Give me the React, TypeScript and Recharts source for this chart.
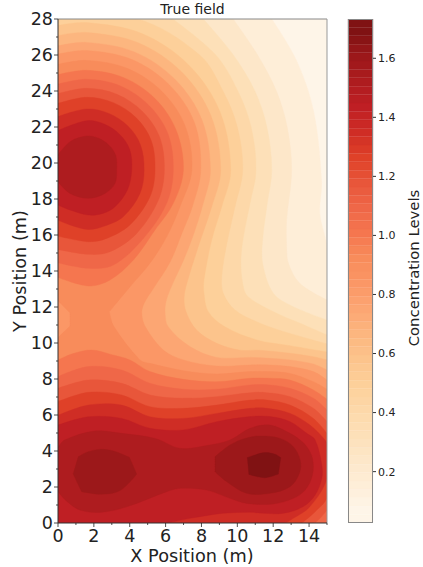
import { BarChart, Bar, LineChart, Line, XAxis, YAxis, ReferenceLine } from "recharts";

type Pt = [number, number];

// filled contour bands, low to high
const bandColors = [
  "#fef5e8", "#feeed8", "#fde7c9", "#fde0b8", "#fdd8a9",
  "#fdd09a", "#fcc48c", "#fcb67f", "#fca673", "#fb9766",
  "#f88c5b", "#f5764f", "#ef6748", "#e8563a", "#df4128",
  "#cf2d25", "#bf1f24", "#ae1c1f", "#9c181a", "#801213",
];

const base: Pt[] = [[0, 0], [0, 28], [15, 28], [15, 0]];
const level1: Pt[] = [[0, 28], [11.92, 28], [13.3, 25.7], [14.25, 22.9], [14.7, 19], [14.6, 17.2], [15, 15.2], [15, 0], [0, 0]];
const level2: Pt[] = [[0, 28], [9.77, 28], [11.13, 26], [12.18, 24], [12.78, 22], [13.03, 19.6], [12.75, 16.83], [12.75, 15.35], [12.85, 14.43], [13.5, 13.3], [15, 12.39], [15, 0], [0, 0]];
const level3: Pt[] = [[0, 28], [8.1, 28], [9.78, 26], [10.98, 24], [11.65, 22], [11.92, 19.6], [11.67, 17.76], [11.41, 15.72], [11.41, 14.43], [12.01, 12.76], [13.12, 12.02], [15, 11.28], [15, 0], [0, 0]];
const level4: Pt[] = [[0, 28], [6.4, 28], [8.8, 26], [10.03, 24], [10.77, 22], [11.04, 19.6], [10.71, 17.76], [10.34, 15.9], [10.2, 14.6], [10.3, 13.3], [10.6, 12.57], [12.2, 11.65], [13.5, 11.1], [15, 10.45], [15, 0], [0, 0]];
const level5: Pt[] = [[0, 28], [4.4, 28], [7.9, 26], [9.2, 24], [10, 22], [10.3, 19.6], [9.87, 17.57], [9.41, 15.5], [9.13, 13.67], [9.22, 12.75], [9.87, 11.83], [11.08, 11.18], [12.38, 10.7], [15, 9.95], [15, 0], [0, 0]];
const level6: Pt[] = [[0, 27.64], [1.6, 27.8], [4.68, 27.19], [7.29, 25.44], [9.04, 22.83], [9.63, 19.6], [9.13, 17.57], [8.57, 15.72], [8.14, 13.5], [8.14, 12.76], [8.38, 11.74], [9.31, 10.9], [11.08, 10.17], [12.94, 9.85], [15, 9.5], [15, 0], [0, 0]];
const level7: Pt[] = [[0, 27.08], [1.6, 27.25], [4.47, 26.68], [6.9, 25.05], [8.53, 22.62], [9.07, 19.6], [8.57, 17.57], [7.82, 15.35], [7.18, 13.3], [7.03, 12.48], [7.14, 11.74], [7.73, 10.72], [8.85, 9.98], [10.15, 9.6], [11.2, 9.6], [12.94, 9.43], [14.24, 9.24], [15, 9.06], [15, 0], [0, 0]];
const level8: Pt[] = [[0, 26.51], [1.6, 26.7], [4.26, 26.17], [6.51, 24.66], [8.02, 22.41], [8.5, 19.6], [8.1, 17.76], [7.55, 16], [7, 14.6], [6.4, 13.3], [6.05, 12.4], [5.97, 11.7], [6.15, 10.9], [7.36, 9.8], [8.85, 9.2], [10.71, 9.2], [11.82, 9.15], [12.94, 9.06], [14.24, 8.83], [15, 8.5], [15, 0], [0, 0]];
const level9: Pt[] = [[0, 26.05], [1.6, 26.25], [4.09, 25.76], [6.2, 24.35], [7.61, 22.24], [7.96, 19.6], [7.5, 17.6], [6.95, 16.2], [6.25, 14.5], [5.3, 13], [4.8, 12.2], [4.67, 11.65], [4.87, 10.9], [5.87, 9.61], [6.99, 9.06], [8.85, 8.72], [10.71, 8.78], [11.82, 8.78], [12.94, 8.69], [14.24, 8.41], [15, 7.94], [15, 0], [0, 0]];
const level10: Pt[] = [[0, 25.48], [1.6, 25.7], [3.88, 25.25], [5.81, 23.96], [7.1, 22.03], [7.46, 19.6], [6.8, 17.57], [6.06, 15.9], [5.13, 14.43], [4.02, 13.13], [2.86, 11.74], [3.12, 10.91], [4.57, 9.06], [5.13, 8.87], [6.99, 8.46], [8.85, 8.28], [10.71, 8.41], [11.82, 8.41], [12.94, 8.31], [14.24, 7.85], [15, 7.43], [15, 0], [0, 0], [0, 10.3], [0.67, 10.94], [0.67, 11.68], [0, 12.35]];
const level11Top: Pt[] = [[0, 24.91], [1.6, 25.15], [3.67, 24.74], [5.42, 23.57], [6.59, 21.82], [6.99, 19.61], [6.43, 17.76], [5.41, 16.28], [4.2, 14.61], [2.9, 13.5], [1.69, 13.17], [0, 13.65]];
const level11Low: Pt[] = [[0, 9.05], [0.8, 9.4], [1.88, 9.61], [3, 9.35], [4.01, 9.06], [5.13, 8.41], [6.99, 7.98], [8.85, 7.85], [10.71, 8.04], [11.82, 8.04], [12.94, 7.94], [14.24, 7.39], [15, 6.87], [15, 0], [0, 0]];
const level12Top: Pt[] = [[0, 24.38], [1.6, 24.65], [3.48, 24.28], [5.06, 23.21], [6.13, 21.63], [6.43, 19.61], [6.06, 17.76], [4.76, 15.81], [3.09, 14.33], [1.69, 14.15], [0, 14.46]];
const level12Low: Pt[] = [[0, 8.13], [1.69, 8.69], [3.55, 8.5], [5.13, 7.76], [6.99, 7.43], [8.85, 7.43], [10.71, 7.67], [11.82, 7.67], [12.94, 7.48], [14.24, 6.93], [15, 6.28], [15, 0], [0, 0]];
const level13Top: Pt[] = [[0, 23.85], [1.6, 24.15], [3.28, 23.82], [4.71, 22.86], [5.67, 21.43], [5.93, 19.61], [5.6, 17.94], [4.39, 16.09], [2.9, 15.07], [1.69, 14.93], [0, 15.2]];
const level13Low: Pt[] = [[0, 7.48], [1.69, 7.94], [3.55, 7.76], [5.13, 7.11], [6.99, 6.93], [8.85, 7.02], [10.71, 7.24], [11.64, 7.24], [12.94, 7.02], [14.24, 6.37], [15, 5.63], [15, 0.72], [14.61, 0.26], [14.24, 0], [0, 0]];
const level14Top: Pt[] = [[0, 23.31], [1.6, 23.65], [3.09, 23.35], [4.36, 22.51], [5.2, 21.24], [5.41, 19.61], [5.13, 18.13], [4.01, 16.56], [2.71, 15.81], [1.69, 15.63], [0, 15.94]];
const level14Low: Pt[] = [[0, 6.74], [1.69, 7.26], [3.55, 7.11], [5.13, 6.46], [6.99, 6.37], [8.85, 6.55], [10.71, 6.83], [11.64, 6.83], [12.94, 6.55], [14.24, 5.81], [15, 4.98], [15, 1.46], [14.34, 0.63], [13.6, 0], [0, 0]];
const level15Top: Pt[] = [[0, 22.58], [1.6, 23], [2.84, 22.75], [3.9, 22.05], [4.6, 21], [4.8, 19.61], [4.57, 18.31], [3.64, 17.02], [2.6, 16.5], [1.69, 16.31], [0.67, 16.56], [0, 16.83]];
const level15Low: Pt[] = [[0, 5.98], [1.69, 6.55], [3.55, 6.55], [5.13, 5.9], [6.99, 5.81], [8.85, 6.09], [10.71, 6.37], [11.64, 6.37], [12.94, 6.09], [14.05, 5.44], [14.89, 4.61], [15, 4.33], [15, 2.48], [14.05, 0.91], [13.12, 0.26], [12.57, 0], [0, 0]];
const level16Top: Pt[] = [[0, 21.8], [1.6, 22.35], [2.6, 22.15], [3.44, 21.59], [4, 20.75], [4.11, 19.61], [3.87, 18.5], [3.18, 17.57], [2.5, 17.2], [1.69, 17.11], [0.67, 17.39], [0, 17.67]];
const level16Low: Pt[] = [[0, 5.44], [1.69, 5.9], [3.55, 5.81], [5.13, 5.26], [6.99, 5.17], [8.85, 5.63], [10.71, 5.91], [11.82, 5.91], [12.94, 5.63], [13.87, 4.98], [14.34, 4.61], [14.71, 3.22], [14.71, 2.48], [14.34, 1.56], [13.68, 0.91], [12.57, 0.54], [11.45, 0.54], [10.71, 0.6], [9.22, 0.54], [8.5, 0.45], [7.36, 0.26], [5.87, 0], [0, 0]];
const level17Top: Pt[] = [[0, 20.46], [0.7, 21.2], [1.6, 21.5], [2.27, 21.37], [2.84, 20.99], [3.22, 20.42], [3.27, 19.61], [3.18, 18.87], [2.62, 18.31], [1.69, 18.04], [0.67, 18.31], [0, 18.96]];
const level17Low: Pt[] = [[0, 4.2], [0.37, 4.61], [2.04, 5.11], [3.55, 4.98], [5.41, 4.7], [6.8, 4.15], [8.29, 4.3], [9.59, 4.61], [10.71, 5.26], [11.82, 5.44], [12.94, 4.98], [13.5, 4.61], [13.87, 4.24], [14.19, 3.59], [14.19, 2.67], [13.78, 1.83], [13.12, 1.37], [12.01, 1.06], [10.52, 1.09], [9.59, 1.37], [8.29, 1.83], [6.8, 1.93], [6.06, 1.74], [3.83, 0.9], [2.34, 0.59], [1.23, 0.72], [0.5, 1.2], [0, 1.74]];
const level18Left: Pt[] = [[0.85, 2.72], [1.13, 3.68], [1.69, 3.96], [2.34, 4.09], [3.09, 4], [3.98, 3.65], [4.39, 2.72], [3.46, 1.8], [2.44, 1.6], [1.32, 1.74]];
const level18Right: Pt[] = [[8.76, 3.68], [9.59, 4.33], [10.43, 4.7], [11.27, 4.83], [12.38, 4.7], [13.12, 4.24], [13.5, 3.5], [13.46, 2.76], [12.94, 2.02], [11.82, 1.65], [10.52, 1.65], [9.4, 2.3], [8.76, 2.85]];
const level19: Pt[] = [[10.56, 3.63], [10.99, 3.78], [11.54, 3.91], [12.1, 3.82], [12.42, 3.63], [12.29, 2.72], [11.54, 2.52], [10.65, 2.7]];

const contours: [number, Pt[]][] = [
  [0, base], [1, level1], [2, level2], [3, level3], [4, level4], [5, level5],
  [6, level6], [7, level7], [8, level8], [9, level9], [10, level10],
  [11, level11Top], [11, level11Low], [12, level12Top], [12, level12Low],
  [13, level13Top], [13, level13Low], [14, level14Top], [14, level14Low],
  [15, level15Top], [15, level15Low], [16, level16Top], [16, level16Low],
  [17, level17Top], [17, level17Low], [18, level18Left], [18, level18Right], [19, level19],
];

const xTicks = [0, 1, 2, 3, 4, 5, 6, 7, 8, 9, 10, 11, 12, 13, 14, 15];
const yTicks = [0, 1, 2, 3, 4, 5, 6, 7, 8, 9, 10, 11, 12, 13, 14, 15, 16, 17, 18, 19, 20, 21, 22, 23, 24, 25, 26, 27, 28];

// colour bar
const barTicks = [0.2, 0.4, 0.6, 0.8, 1.0, 1.2, 1.4, 1.6];
const barMin = 0.026;
const barMax = 1.733;
const BAR_SLICES = 60;

// the bar is a fine ramp through the band colours, not 20 blocks
function rampColor(t: number) {
  const pos = Math.min(t * bandColors.length - 0.5, bandColors.length - 1);
  const p = Math.max(pos, 0);
  const i = Math.min(Math.floor(p), bandColors.length - 2);
  const f = p - i;
  const ch = (c: string, k: number) => parseInt(c.slice(1 + k * 2, 3 + k * 2), 16);
  const mix = (k: number) => Math.round(ch(bandColors[i], k) * (1 - f) + ch(bandColors[i + 1], k) * f);
  return `rgb(${mix(0)},${mix(1)},${mix(2)})`;
}

const barSlices = Array.from({ length: BAR_SLICES }, (_, i) => rampColor((i + 0.5) / BAR_SLICES));
const barRow: Record<string, number | string> = { name: "levels", offset: barMin };
barSlices.forEach((_, i) => {
  barRow["b" + i] = (barMax - barMin) / BAR_SLICES;
});

const FONT = "'DejaVu Sans', sans-serif";
const INK = "#222";

// closes the outline, rounds the gentle bends, keeps the sharp ones (plot corners, saddle)
function smoothContour(context: any) {
  let pts: number[][] = [];
  return {
    areaStart() {},
    areaEnd() {},
    lineStart() {
      pts = [];
    },
    point(x: number, y: number) {
      pts.push([+x, +y]);
    },
    lineEnd() {
      const n = pts.length;
      const tangents = pts.map((p, i) => {
        const a = pts[(i + n - 1) % n];
        const b = pts[(i + 1) % n];
        const ux = p[0] - a[0];
        const uy = p[1] - a[1];
        const vx = b[0] - p[0];
        const vy = b[1] - p[1];
        const cos = (ux * vx + uy * vy) / (Math.hypot(ux, uy) * Math.hypot(vx, vy));
        if (cos < 0.77) return [0, 0];
        const len = Math.hypot(b[0] - a[0], b[1] - a[1]);
        return [(b[0] - a[0]) / len, (b[1] - a[1]) / len];
      });
      context.moveTo(pts[0][0], pts[0][1]);
      for (let i = 0; i < n; i++) {
        const j = (i + 1) % n;
        const d = Math.hypot(pts[j][0] - pts[i][0], pts[j][1] - pts[i][1]) / 3;
        context.bezierCurveTo(
          pts[i][0] + tangents[i][0] * d,
          pts[i][1] + tangents[i][1] * d,
          pts[j][0] - tangents[j][0] * d,
          pts[j][1] - tangents[j][1] * d,
          pts[j][0],
          pts[j][1],
        );
      }
      context.closePath();
    },
  };
}

function XTick({ x, y, payload }: any) {
  const major = payload.value % 2 === 0;
  return (
    <g>
      <line x1={x} x2={x} y1={y} y2={y + (major ? 4 : 2)} stroke={INK} strokeWidth={0.8} />
      {major && (
        <text x={x} y={y + 19} textAnchor="middle" fontSize={17.5} fontFamily={FONT} fill={INK}>
          {payload.value}
        </text>
      )}
    </g>
  );
}

function YTick({ x, y, payload }: any) {
  const major = payload.value % 2 === 0;
  return (
    <g>
      <line x1={x} x2={x - (major ? 4 : 2)} y1={y} y2={y} stroke={INK} strokeWidth={0.8} />
      {major && (
        <text x={x - 5} y={y + 6} textAnchor="end" fontSize={17.5} fontFamily={FONT} fill={INK}>
          {payload.value}
        </text>
      )}
    </g>
  );
}

export default function App() {
  return (
    <div style={{ position: "absolute", left: 0, top: 0, width: 423, height: 567, background: "#fff" }}>
      <div style={{ position: "absolute", left: 0, top: 0 }}>
        <LineChart width={340} height={567} margin={{ top: 19, right: 13, bottom: 0, left: 0 }}>
          <XAxis
            type="number"
            dataKey="x"
            domain={[0, 15]}
            ticks={xTicks}
            interval={0}
            height={44}
            tickSize={0}
            tickMargin={0}
            tick={XTick}
            allowDataOverflow
            stroke="#333"
          />
          <YAxis
            type="number"
            dataKey="y"
            domain={[0, 28]}
            ticks={yTicks}
            interval={0}
            width={58}
            tickSize={0}
            tickMargin={0}
            tick={YTick}
            allowDataOverflow
            stroke="#333"
          />
          {contours.map(([band, pts], i) => (
            <Line
              key={i}
              data={pts.map(([x, y]) => ({ x, y }))}
              dataKey="y"
              type={smoothContour as any}
              stroke={bandColors[band]}
              strokeWidth={0.4}
              style={{ fill: bandColors[band] }}
              dot={false}
              activeDot={false}
              legendType="none"
              isAnimationActive={false}
            />
          ))}
          <ReferenceLine y={28} stroke="#888" strokeWidth={1} />
          <ReferenceLine x={15} stroke="#999" strokeWidth={1} />
          <text x={192.5} y={14} textAnchor="middle" fontSize={14} fontFamily={FONT} fill={INK}>
            True field
          </text>
          <text x={192} y={562} textAnchor="middle" fontSize={17.7} fontFamily={FONT} fill={INK}>
            X Position (m)
          </text>
          <text
            x={21}
            y={271}
            textAnchor="middle"
            fontSize={17.7}
            fontFamily={FONT}
            fill={INK}
            transform="rotate(-90 21 271)"
            dominantBaseline="middle"
          >
            Y Position (m)
          </text>
        </LineChart>
      </div>
      <div style={{ position: "absolute", left: 340, top: 0 }}>
        <BarChart
          width={83}
          height={567}
          data={[barRow]}
          barCategoryGap={0}
          margin={{ top: 19, right: 0, bottom: 44, left: 8 }}
        >
          <XAxis dataKey="name" hide />
          <YAxis
            orientation="right"
            type="number"
            domain={[barMin, barMax]}
            ticks={barTicks}
            interval={0}
            width={50}
            allowDataOverflow
            axisLine={false}
            tickSize={3}
            tickMargin={2}
            tickFormatter={(v: number) => v.toFixed(1)}
            tick={{ fontSize: 11, fontFamily: FONT, fill: INK }}
            stroke="#333"
          />
          <Bar dataKey="offset" stackId="c" fill="transparent" isAnimationActive={false} />
          {barSlices.map((c, i) => (
            <Bar key={i} dataKey={"b" + i} stackId="c" fill={c} stroke={c} strokeWidth={0.3} isAnimationActive={false} />
          ))}
          <text
            x={75}
            y={268}
            textAnchor="middle"
            fontSize={14.85}
            fontFamily={FONT}
            fill={INK}
            transform="rotate(-90 75 268)"
            dominantBaseline="middle"
          >
            Concentration Levels
          </text>
        </BarChart>
      </div>
      <div
        style={{
          position: "absolute",
          left: 348,
          top: 19,
          width: 25,
          height: 504,
          boxSizing: "border-box",
          border: "1px solid #888",
        }}
      />
    </div>
  );
}
